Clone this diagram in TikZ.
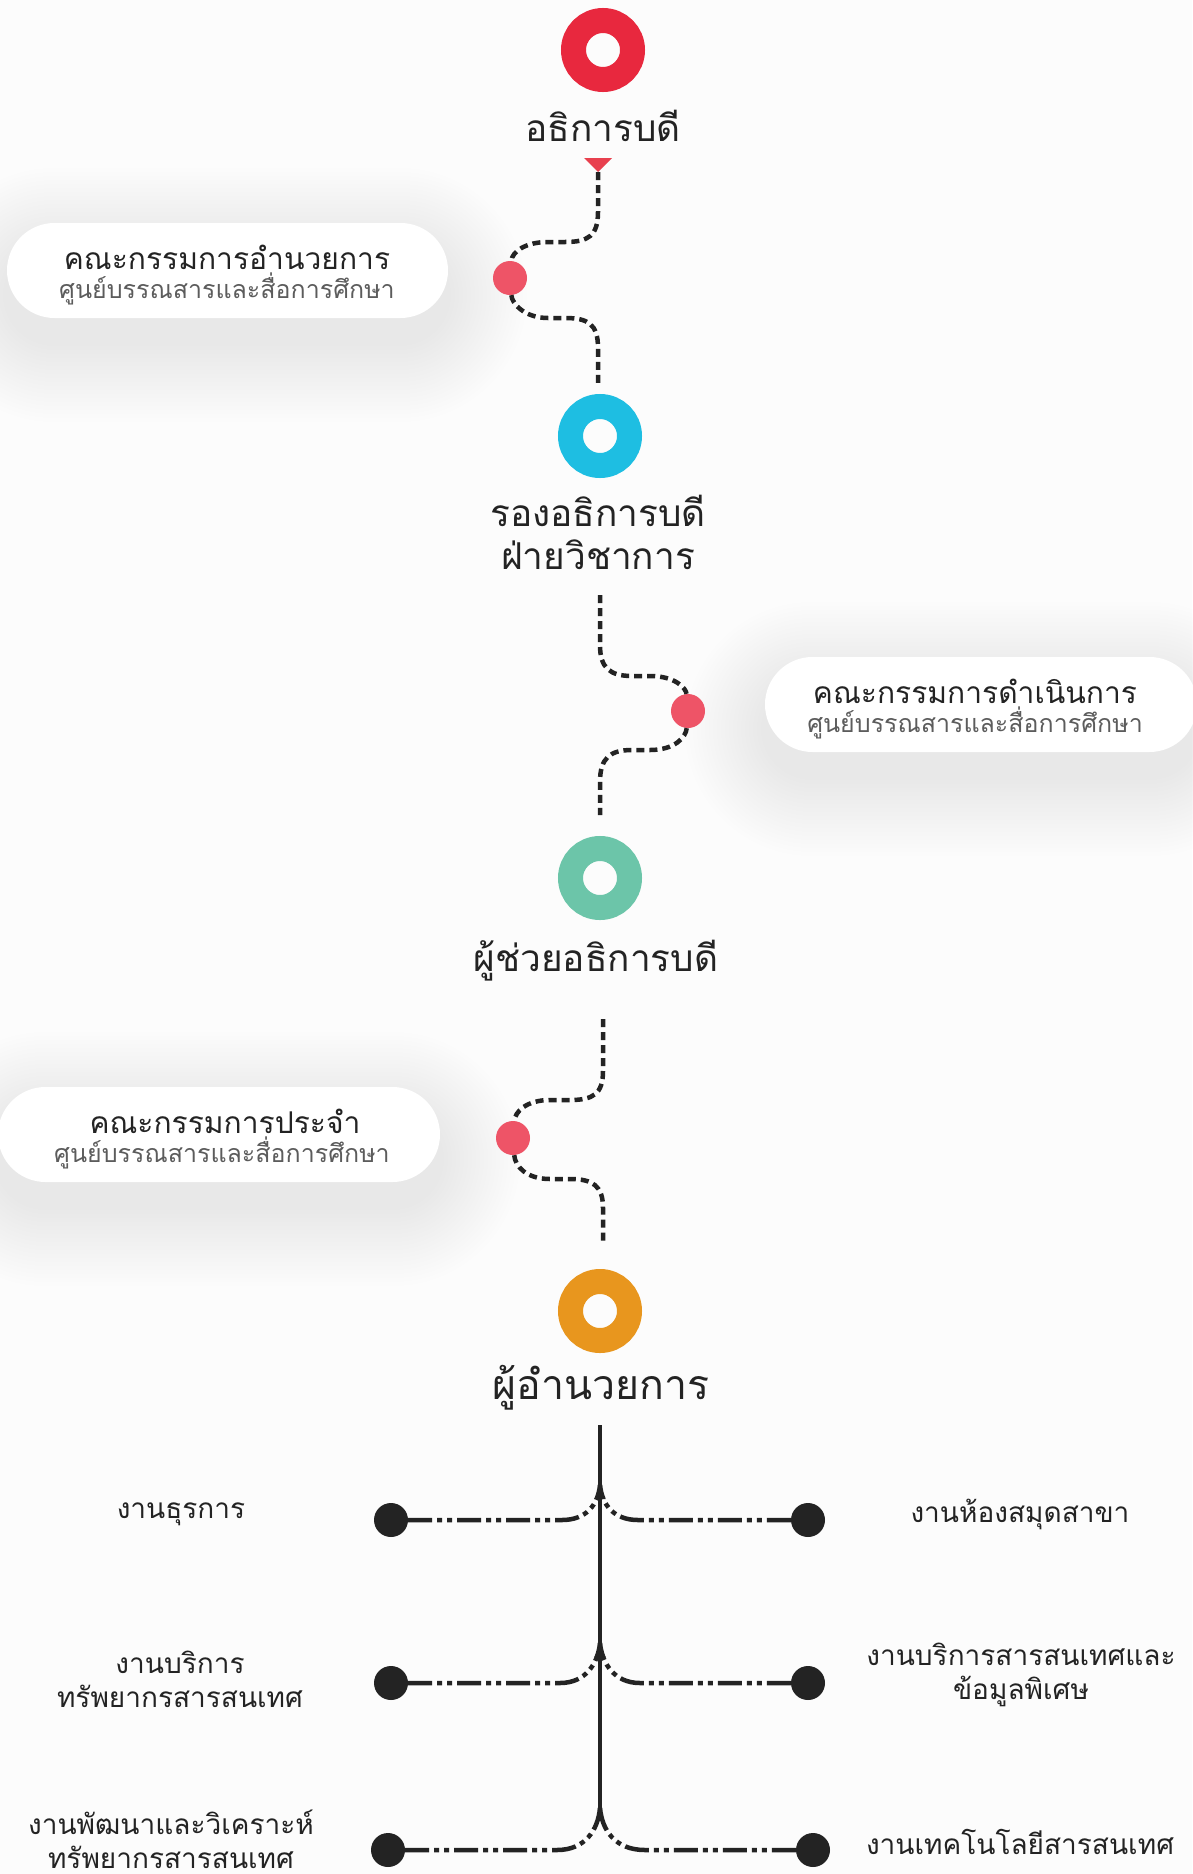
\documentclass[tikz,border=0pt]{standalone}
\usepackage{fontspec}
\newfontfamily\thai[Script=Thai]{Loma}
\usetikzlibrary{arrows.meta,shapes.misc}
\definecolor{ringred}{HTML}{E8283E}
\definecolor{ringblue}{HTML}{1EBEE2}
\definecolor{ringgreen}{HTML}{6CC5A9}
\definecolor{ringorange}{HTML}{E8961E}
\definecolor{dotpink}{HTML}{EE5467}
\definecolor{trired}{HTML}{E8404E}
\definecolor{ink}{HTML}{232323}
\definecolor{subgray}{HTML}{5C5C5C}
\definecolor{bg}{HTML}{FCFCFC}
\tikzset{
  ring/.style={circle, draw=#1, line width=25pt, minimum size=59pt, inner sep=0pt},
  pinkdot/.style={circle, fill=dotpink, minimum size=34pt, inner sep=0pt},
  blackdot/.style={circle, fill=ink, minimum size=34pt, inner sep=0pt},
  wavy/.style={draw=ink, line width=4.5pt, dash pattern=on 8pt off 5pt},
  branch/.style={draw=ink, line width=4.5pt, dash pattern=on 24pt off 5pt on 5pt off 5pt on 5pt off 5pt},
  stem/.style={draw=ink, line width=4.5pt},
  pill/.style={rounded rectangle, fill=white, minimum height=95pt, inner sep=0pt},
  bigname/.style={font=\thai\fontsize{37}{43}\selectfont, text=ink, inner sep=0pt, align=center},
  pilltitle/.style={font=\thai\fontsize{30}{34}\selectfont, text=ink, inner sep=0pt},
  pillsub/.style={font=\thai\fontsize{25}{30}\selectfont, text=subgray, inner sep=0pt},
  unit/.style={font=\thai\fontsize{28}{34}\selectfont, text=ink, inner sep=0pt, align=center},
  shadowlayer/.style={fill=black, opacity=0.0048}
}
\newcommand{\pillshadow}[4]{% cx, cy, halfwidth, halfheight
  \foreach \e in {4,8,...,80}{
    \fill[shadowlayer, rounded corners=#4pt+\e pt]
      (#1-#3-\e, #2-#4-\e) rectangle (#1+#3+\e, #2+#4+\e);
  }}
\begin{document}
\begin{tikzpicture}[x=1pt,y=-1pt]
\useasboundingbox (0,0) rectangle (1192,1874);
\fill[bg] (0,0) rectangle (1192,1874);

% shadows of pills
\pillshadow{227}{295}{220}{47}
\pillshadow{981}{729}{216}{47}
\pillshadow{219}{1159}{221}{47}

% pills
\node[pill, minimum width=441pt] (p1) at (227.5,270.5) {};
\node[pill, minimum width=432pt] (p2) at (981,704.5) {};
\node[pill, minimum width=442pt] (p3) at (219,1134.5) {};
\node[pilltitle] (p1t) at (227,257) {คณะกรรมการอำนวยการ};
\node[pillsub]   (p1s) at (227,289) {ศูนย์บรรณสารและสื่อการศึกษา};
\node[pilltitle] (p2t) at (975,691) {คณะกรรมการดำเนินการ};
\node[pillsub]   (p2s) at (975,723) {ศูนย์บรรณสารและสื่อการศึกษา};
\node[pilltitle] (p3t) at (225,1121) {คณะกรรมการประจำ};
\node[pillsub]   (p3s) at (222,1153) {ศูนย์บรรณสารและสื่อการศึกษา};

% rings
\node[ring=ringred]    (r1) at (603,50) {};
\node[ring=ringblue]   (r2) at (600,436) {};
\node[ring=ringgreen]  (r3) at (600,878) {};
\node[ring=ringorange] (r4) at (600,1311) {};

% names
\node[bigname] (n1) at (603,126) {อธิการบดี};
\node[bigname] (n2) at (598,532) {รองอธิการบดี\\ฝ่ายวิชาการ};
\node[bigname] (n3) at (596,961) {ผู้ช่วยอธิการบดี};
\node[bigname, font=\thai\fontsize{41}{46}\selectfont] (n4) at (601,1388) {ผู้อำนวยการ};

% pink dots
\node[pinkdot] (d1) at (510,278) {};
\node[pinkdot] (d2) at (688,711) {};
\node[pinkdot] (d3) at (513,1138) {};

% triangle and wavy connectors
\coordinate (t1) at (598,172);
\fill[trired] (584,158) -- (612,158) -- (t1) -- cycle;
\coordinate (a2) at (598,383);
\draw[wavy] (t1) -- (598,212) .. controls (598,236) and (588,242) .. (565,242)
  -- (548,242) .. controls (525,242) and (512,252) .. (d1);
\draw[wavy] (d1) .. controls (512,304) and (525,318) .. (548,318)
  -- (565,318) .. controls (588,318) and (598,324) .. (598,348) -- (a2);

\coordinate (b1) at (600,595);
\coordinate (b2) at (600,815);
\draw[wavy] (b1) -- (600,645) .. controls (600,668) and (610,676) .. (632,676)
  -- (650,676) .. controls (675,676) and (686,688) .. (d2);
\draw[wavy] (d2) .. controls (686,737) and (675,750) .. (650,750)
  -- (632,750) .. controls (610,750) and (600,758) .. (600,782) -- (b2);

\coordinate (c1) at (603,1019);
\coordinate (c2) at (603,1241);
\draw[wavy] (c1) -- (603,1071) .. controls (603,1094) and (593,1100) .. (570,1100)
  -- (550,1100) .. controls (526,1100) and (515,1112) .. (d3);
\draw[wavy] (d3) .. controls (515,1166) and (526,1179) .. (550,1179)
  -- (570,1179) .. controls (593,1179) and (603,1186) .. (603,1208) -- (c2);

% tree
\coordinate (s0) at (600,1425);
\coordinate (tp1) at (600,1485);
\coordinate (tp2) at (600,1643);
\coordinate (tp3) at (600,1808);
\draw[stem] (s0) -- (tp1);
\draw[stem, -{Latex[length=14pt,width=12pt]}] (tp2) -- (tp1);
\draw[stem, -{Latex[length=14pt,width=12pt]}] (tp3) -- (tp2);

\node[blackdot] (l1) at (391,1520) {};
\node[blackdot] (l2) at (391,1683) {};
\node[blackdot] (l3) at (388,1850) {};
\node[blackdot] (q1) at (808,1520) {};
\node[blackdot] (q2) at (808,1683) {};
\node[blackdot] (q3) at (813,1850) {};

\draw[branch] (l1) -- (562,1520) .. controls (586,1520) and (598,1505) .. (tp1);
\draw[branch] (q1) -- (638,1520) .. controls (614,1520) and (602,1505) .. (tp1);
\draw[branch] (l2) -- (560,1683) .. controls (586,1683) and (598,1663) .. (tp2);
\draw[branch] (q2) -- (640,1683) .. controls (614,1683) and (602,1663) .. (tp2);
\draw[branch] (l3) -- (557,1850) .. controls (585,1850) and (598,1830) .. (tp3);
\draw[branch] (q3) -- (645,1850) .. controls (615,1850) and (602,1830) .. (tp3);

% unit labels
\node[unit] (u1) at (181,1514) {งานธุรการ};
\node[unit] (u2) at (180,1679) {งานบริการ\\ทรัพยากรสารสนเทศ};
\node[unit] (u3) at (171,1839) {งานพัฒนาและวิเคราะห์\\ทรัพยากรสารสนเทศ};
\node[unit] (u4) at (1020,1514) {งานห้องสมุดสาขา};
\node[unit] (u5) at (1021,1675) {งานบริการสารสนเทศและ\\ข้อมูลพิเศษ};
\node[unit] (u6) at (1020,1842) {งานเทคโนโลยีสารสนเทศ};
\end{tikzpicture}
\end{document}
